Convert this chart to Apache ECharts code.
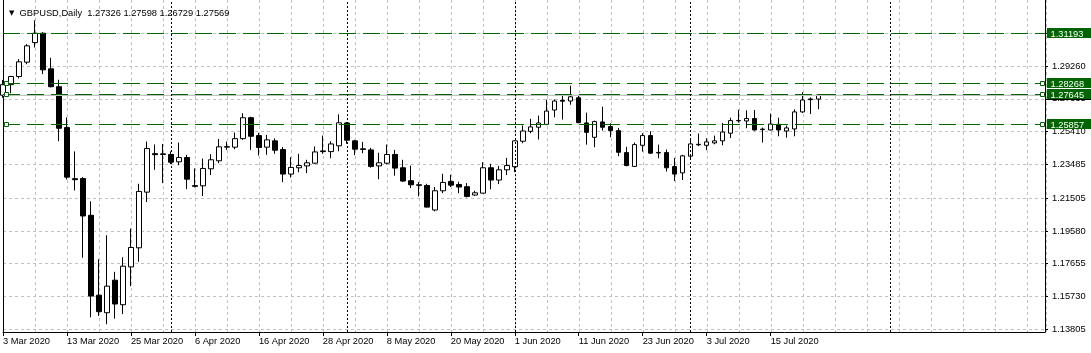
<!DOCTYPE html>
<html><head><meta charset="utf-8">
<script src="https://cdn.jsdelivr.net/npm/echarts@6/dist/echarts.min.js"></script>
<style>html,body{margin:0;padding:0;background:#fff}#c{width:1091px;height:353px}</style>
</head><body><div id="c"></div>
<script>
// ---------- data ----------
const symbolName = 'GBPUSD,Daily';
const headerValues = '1.27326 1.27598 1.26729 1.27569';
const opens = [1.2755,1.2817,1.2865,1.2949,1.3064,1.3119,1.2910,1.2805,1.2565,1.2265,
1.2266,1.2050,1.1581,1.1478,1.1669,1.1525,1.1747,1.1859,1.2186,1.2412,
1.2407,1.2407,1.2364,1.2389,1.2224,1.2223,1.2323,1.2370,1.2450,1.2450,
1.2500,1.2623,1.2518,1.2450,1.2487,1.2436,1.2292,1.2329,1.2340,1.2356,
1.2428,1.2424,1.2458,1.2592,1.2487,1.2440,1.2434,1.2340,1.2356,1.2407,
1.2329,1.2253,1.2229,1.2225,1.2081,1.2194,1.2249,1.2231,1.2218,1.2169,
1.2180,1.2329,1.2257,1.2317,1.2335,1.2485,1.2543,1.2567,1.2584,1.2668,
1.2725,1.2721,1.2740,1.2592,1.2508,1.2598,1.2571,1.2547,1.2418,1.2337,
1.2461,1.2518,1.2416,1.2418,1.2336,1.2299,1.2397,1.2467,1.2461,1.2475,
1.2487,1.2532,1.2605,1.2604,1.2618,1.2553,1.2551,1.2584,1.2545,1.2557,
1.2657,1.2733,1.27326];
const closes = [1.2817,1.2865,1.2951,1.3045,1.3119,1.2904,1.2805,1.2561,1.2274,1.2259,
1.2046,1.1576,1.1484,1.1634,1.1529,1.1751,1.1861,1.2190,1.2442,1.2406,
1.2411,1.2362,1.2389,1.2262,1.2220,1.2325,1.2376,1.2452,1.2453,1.2500,
1.2623,1.2514,1.2448,1.2493,1.2432,1.2292,1.2331,1.2342,1.2358,1.2422,
1.2424,1.2469,1.2593,1.2491,1.2438,1.2437,1.2337,1.2358,1.2407,1.2327,
1.2251,1.2229,1.2226,1.2098,1.2194,1.2243,1.2227,1.2216,1.2161,1.2182,
1.2329,1.2257,1.2317,1.2342,1.2487,1.2545,1.2569,1.2592,1.2662,1.2721,
1.2720,1.2746,1.2594,1.2537,1.2600,1.2567,1.2547,1.2420,1.2342,1.2465,
1.2518,1.2415,1.2419,1.2329,1.2292,1.2399,1.2469,1.2464,1.2481,1.2487,
1.2539,1.2606,1.2607,1.2618,1.2551,1.2556,1.2586,1.2551,1.2563,1.2657,
1.2727,1.2729,1.27569];
const lows = [1.2740,1.2766,1.2854,1.2937,1.3035,1.2879,1.2801,1.2485,1.2260,1.2196,
1.1801,1.1451,1.1459,1.1410,1.1443,1.1470,1.1634,1.1777,1.2128,1.2317,
1.2239,1.2350,1.2344,1.2204,1.2214,1.2163,1.2286,1.2356,1.2434,1.2438,
1.2493,1.2434,1.2401,1.2405,1.2411,1.2245,1.2272,1.2303,1.2298,1.2352,
1.2411,1.2385,1.2426,1.2470,1.2403,1.2415,1.2329,1.2262,1.2348,1.2282,
1.2247,1.2210,1.2161,1.2096,1.2073,1.2180,1.2216,1.2180,1.2155,1.2165,
1.2178,1.2202,1.2233,1.2286,1.2303,1.2473,1.2532,1.2495,1.2579,1.2625,
1.2612,1.2699,1.2590,1.2465,1.2450,1.2547,1.2508,1.2397,1.2338,1.2333,
1.2424,1.2411,1.2385,1.2307,1.2251,1.2257,1.2381,1.2456,1.2432,1.2467,
1.2461,1.2504,1.2594,1.2561,1.2547,1.2477,1.2549,1.2514,1.2506,1.2514,
1.2651,1.2645,1.26729];
const highs = [1.2845,1.2869,1.2967,1.3055,1.3195,1.3125,1.2975,1.2846,1.2625,1.2425,
1.2274,1.2132,1.1792,1.1933,1.1718,1.1804,1.1972,1.2235,1.2483,1.2466,
1.2469,1.2425,1.2477,1.2405,1.2325,1.2383,1.2409,1.2498,1.2483,1.2536,
1.2649,1.2629,1.2534,1.2522,1.2502,1.2450,1.2391,1.2411,1.2376,1.2454,
1.2518,1.2485,1.2643,1.2598,1.2493,1.2481,1.2446,1.2417,1.2465,1.2434,
1.2376,1.2342,1.2245,1.2235,1.2216,1.2294,1.2288,1.2247,1.2239,1.2194,
1.2362,1.2352,1.2340,1.2387,1.2491,1.2577,1.2616,1.2635,1.2729,1.2731,
1.2758,1.2811,1.2754,1.2653,1.2606,1.2688,1.2590,1.2563,1.2452,1.2477,
1.2532,1.2543,1.2465,1.2436,1.2387,1.2405,1.2495,1.2530,1.2502,1.2518,
1.2592,1.2623,1.2670,1.2666,1.2668,1.2565,1.2647,1.2623,1.2577,1.2672,
1.2772,1.2742,1.27598];
const dateLabels = ['3 Mar 2020','13 Mar 2020','25 Mar 2020','6 Apr 2020','16 Apr 2020','28 Apr 2020',
  '8 May 2020','20 May 2020','1 Jun 2020','11 Jun 2020','23 Jun 2020','3 Jul 2020','15 Jul 2020'];
const dateLabelBars = [0,8,16,24,32,40,48,56,64,72,80,88,96];
const monthSeparatorBars = [21,43,64,86,111];
const priceTicks = [1.31185,1.29260,1.27335,1.25410,1.23485,1.21505,1.19580,1.17655,1.15730,1.13805];
const priceTickLabels = ['1.31185','1.29260','1.27335','1.25410','1.23485','1.21505','1.19580','1.17655','1.15730','1.13805'];
const bidPrice = 1.27569;
const bidLabel = '1.27569';
const levelPrices = [1.31193, 1.28268, 1.27645, 1.25857];
const levelLabels = ['1.31193','1.28268','1.27645','1.25857'];
const levelHasMarkers = [false, true, true, true];

// ---------- chart ----------
const FONT = 'Liberation Sans';
const FS = 9.3;
const GREEN = '#006400';
const Y_MIN = 1.136471, Y_MAX = 1.331413;
const X_MIN = 0, X_MAX = 130.3125;

const candleData = opens.map((o, i) => [i, o, closes[i], lows[i], highs[i]]);

// horizontal price lines (bid first so level labels cover it)
const hLines = [{price: bidPrice, text: bidLabel, kind: 'bid', markers: false}]
  .concat(levelPrices.map((p, k) => ({price: p, text: levelLabels[k], kind: 'level', markers: levelHasMarkers[k]})));

function renderHLine(params, api) {
  const h = hLines[params.dataIndex];
  const cs = params.coordSys;
  const x0 = cs.x, x1 = cs.x + cs.width;
  const row = Math.round(api.coord([0, api.value(1)])[1]);
  const yc = row + 0.5;
  const isBid = h.kind === 'bid';
  const col = isBid ? '#000' : GREEN;
  const children = [{
    type: 'line', silent: true,
    shape: {x1: x0, y1: yc, x2: x1, y2: yc},
    style: isBid ? {stroke: '#c0c0c0', lineWidth: 1} : {stroke: GREEN, lineWidth: 1, lineDash: [17, 7]}
  }];
  if (h.markers) {
    children.push({type: 'rect', silent: true, shape: {x: Math.floor(x0) + 1.5, y: row - 1.5, width: 4, height: 4},
      style: {fill: '#fff', stroke: GREEN, lineWidth: 1}});
    children.push({type: 'rect', silent: true, shape: {x: Math.floor(x1) - 4.5, y: row - 1.5, width: 4, height: 4},
      style: {fill: '#fff', stroke: GREEN, lineWidth: 1}});
  }
  children.push({type: 'rect', silent: true, shape: {x: Math.floor(x1) + 2, y: row - 5, width: 60, height: 10},
    style: {fill: col}});
  children.push({type: 'text', silent: true,
    style: {text: h.text, x: Math.floor(x1) + 5.5, y: yc + 0.5, fill: '#fff',
      font: FS + 'px "' + FONT + '"', verticalAlign: 'middle', align: 'left'}});
  return {type: 'group', children: children};
}

const chart = echarts.init(document.getElementById('c'), null, {renderer: 'canvas'});
chart.setOption({
  animation: false,
  backgroundColor: '#fff',
  title: {
    text: '{t|▼}  ' + symbolName + '  ' + headerValues,
    left: 4, top: 4,
    textStyle: {fontSize: FS, fontFamily: FONT, color: '#000', fontWeight: 'normal',
      rich: {t: {fontSize: 7, fontFamily: 'DejaVu Sans', color: '#000'}}}
  },
  grid: [
    {left: 2.5, right: 46, top: -1, bottom: 21, show: false},
    {left: 3.5, right: 45, top: -1, bottom: 21, show: false}
  ],
  xAxis: [{
    type: 'value', gridIndex: 0, min: X_MIN, max: X_MAX, position: 'bottom',
    axisLine: {show: true, onZero: false, lineStyle: {color: '#000', width: 1}},
    axisTick: {show: true, length: 4, customValues: dateLabelBars, lineStyle: {color: '#000'}},
    axisLabel: {show: true, customValues: dateLabelBars, align: 'left', margin: 5,
      fontSize: FS, fontFamily: FONT, color: '#000',
      formatter: v => dateLabels[dateLabelBars.indexOf(Math.round(v))] || ''},
    splitLine: {show: false}
  }, {
    type: 'value', gridIndex: 1, min: X_MIN, max: X_MAX, interval: 4, position: 'bottom',
    axisLine: {show: false, onZero: false}, axisTick: {show: false}, axisLabel: {show: false},
    splitLine: {show: true, lineStyle: {color: '#c0c0c0', type: [3, 3], width: 1}}
  }],
  yAxis: [{
    type: 'value', gridIndex: 0, min: Y_MIN, max: Y_MAX, position: 'right',
    axisLine: {show: true, onZero: false, lineStyle: {color: '#000', width: 1}},
    axisTick: {show: true, length: 3, customValues: priceTicks, lineStyle: {color: '#000'}},
    axisLabel: {show: true, customValues: priceTicks, margin: 7, fontSize: FS, fontFamily: FONT, color: '#000',
      formatter: v => { const k = priceTicks.findIndex(t => Math.abs(t - v) < 1e-7); return k >= 0 ? priceTickLabels[k] : ''; }},
    splitLine: {show: true, lineStyle: {color: '#c0c0c0', type: [3, 3], width: 1}}
  }, {
    type: 'value', gridIndex: 0, min: Y_MIN, max: Y_MAX, position: 'left',
    axisLine: {show: true, onZero: false, lineStyle: {color: '#000', width: 1}},
    axisTick: {show: false}, axisLabel: {show: false}, splitLine: {show: false}
  }, {
    type: 'value', gridIndex: 1, min: Y_MIN, max: Y_MAX, position: 'left',
    axisLine: {show: false, onZero: false}, axisTick: {show: false}, axisLabel: {show: false}, splitLine: {show: false}
  }],
  series: [
    {
      type: 'candlestick',
      xAxisIndex: 0, yAxisIndex: 0,
      encode: {x: 0, y: [1, 2, 3, 4]},
      data: candleData,
      barWidth: 5,
      clip: true,
      z: 3,
      itemStyle: {color: '#fff', color0: '#000', borderColor: '#000', borderColor0: '#000', borderWidth: 1},
      markLine: {
        silent: true, animation: false, precision: 5, symbol: 'none',
        lineStyle: {color: '#000', type: [2, 2], width: 1},
        label: {show: false},
        data: monthSeparatorBars.map(b => ({xAxis: b}))
      }
    },
    {
      type: 'custom',
      xAxisIndex: 0, yAxisIndex: 0,
      clip: false,
      silent: true,
      z: 4,
      encode: {x: 0, y: 1},
      data: hLines.map(h => [0, h.price]),
      renderItem: renderHLine
    },
    {
      type: 'line', xAxisIndex: 1, yAxisIndex: 2, data: [], silent: true
    }
  ]
});
</script>
</body></html>
